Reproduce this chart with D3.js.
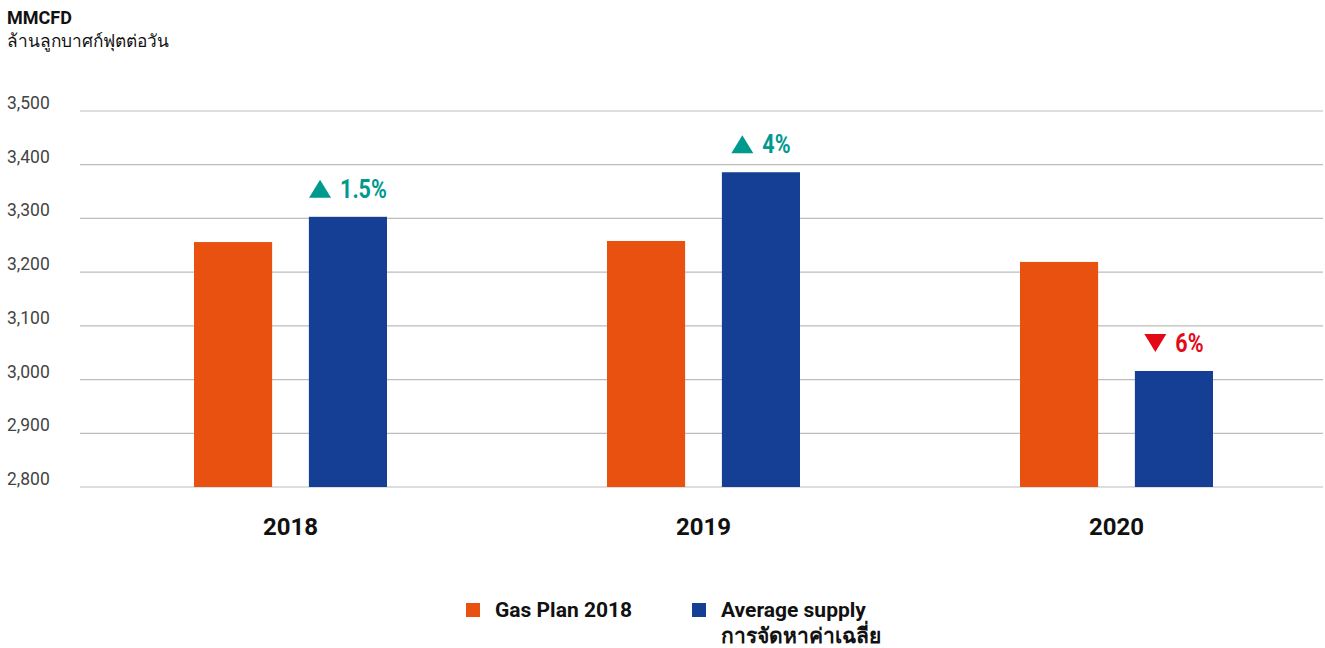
<!DOCTYPE html>
<html><head><meta charset="utf-8">
<script src="https://cdn.jsdelivr.net/npm/d3@7"></script>
<style>body{margin:0;background:#fff;font-family:Roboto,"Noto Sans",sans-serif;}</style>
</head><body><svg id="c" width="1325" height="648"></svg>
<script>
const years = ["2018","2019","2020"];
const gasPlan = [3256, 3258, 3219];
const avgSupply = [3303, 3386, 3016];
const changeLabels = ["1.5%","4%","6%"];
const changeDir = ["up","up","down"];
const yTicks = [2800,2900,3000,3100,3200,3300,3400,3500];
const seriesNames = ["Gas Plan 2018","Average supply"];
const seriesNamesThai = ["","การจัดหาค่าเฉลี่ย"];
const colors = ["#e8510f","#143f94"];

const svg = d3.select("#c");
const y = d3.scaleLinear().domain([2800,3500]).range([487,111]);
const x = d3.scaleBand().domain(years).range([84,1323]);
const sub = d3.scaleBand().domain([0,1]).range([-96.5,96.5]).paddingInner(0.32);

svg.append("text").attr("x",7).attr("y",24).attr("font-size",18).attr("font-weight",700).attr("fill","#111").text("MMCFD");
svg.append("text").attr("x",7).attr("y",47).attr("font-size",17.3).attr("fill","#111").text("ล้านลูกบาศก์ฟุตต่อวัน");

const gy = svg.append("g");
yTicks.forEach(t=>{
  gy.append("line").attr("x1",80).attr("x2",1323).attr("y1",y(t)).attr("y2",y(t)).attr("stroke","#bdbdbd").attr("stroke-width",1.2);
  gy.append("text").attr("x",7).attr("y",y(t)-2).attr("font-size",17.5).attr("fill","#444").text(d3.format(",")(t));
});

const data = years.map((yr,i)=>({yr, vals:[gasPlan[i],avgSupply[i]], lab:changeLabels[i], dir:changeDir[i]}));
data.forEach(d=>{
  const cx = x(d.yr)+x.bandwidth()/2;
  d.vals.forEach((v,j)=>{
    svg.append("rect").attr("x",cx+sub(j)).attr("width",sub.bandwidth())
      .attr("y",y(v)).attr("height",y(2800)-y(v)).attr("fill",colors[j]);
  });
  const bx = cx+sub(1)+sub.bandwidth()/2;
  const col = d.dir==="up" ? "#00998f" : "#e30a17";
  const base = y(d.vals[1]) - 19;
  const g = svg.append("g").attr("transform",`translate(${bx},${base})`);
  const tg = g.append("g");
  const t = tg.append("text").attr("font-size",25).attr("font-weight",700).attr("fill",col)
    .attr("x",0).attr("y",0).attr("transform","scale(0.86,1)").text(d.lab);
  const w = t.node().getComputedTextLength()*0.86;
  const total = 22 + 9 + w;
  const x0 = -total/2;
  tg.attr("transform",`translate(${x0+31},0)`);
  const tri = d.dir==="up"
    ? `M${x0},0 L${x0+22},0 L${x0+11},-18 Z`
    : `M${x0},-18 L${x0+22},-18 L${x0+11},0 Z`;
  g.append("path").attr("d",tri).attr("fill",col);
  svg.append("text").attr("x",cx).attr("y",535).attr("text-anchor","middle").attr("font-size",24)
    .attr("font-weight",700).attr("fill","#111").text(d.yr);
});

const lx = [466, 692];
seriesNames.forEach((n,i)=>{
  svg.append("rect").attr("x",lx[i]).attr("y",603).attr("width",14).attr("height",14).attr("fill",colors[i]);
  svg.append("text").attr("x",lx[i]+29).attr("y",617).attr("font-size",21).attr("font-weight",700).attr("fill","#111").text(n);
  if(seriesNamesThai[i]) svg.append("text").attr("x",lx[i]+29).attr("y",643).attr("font-size",21).attr("font-weight",700).attr("fill","#111").text(seriesNamesThai[i]);
});
</script></body></html>
